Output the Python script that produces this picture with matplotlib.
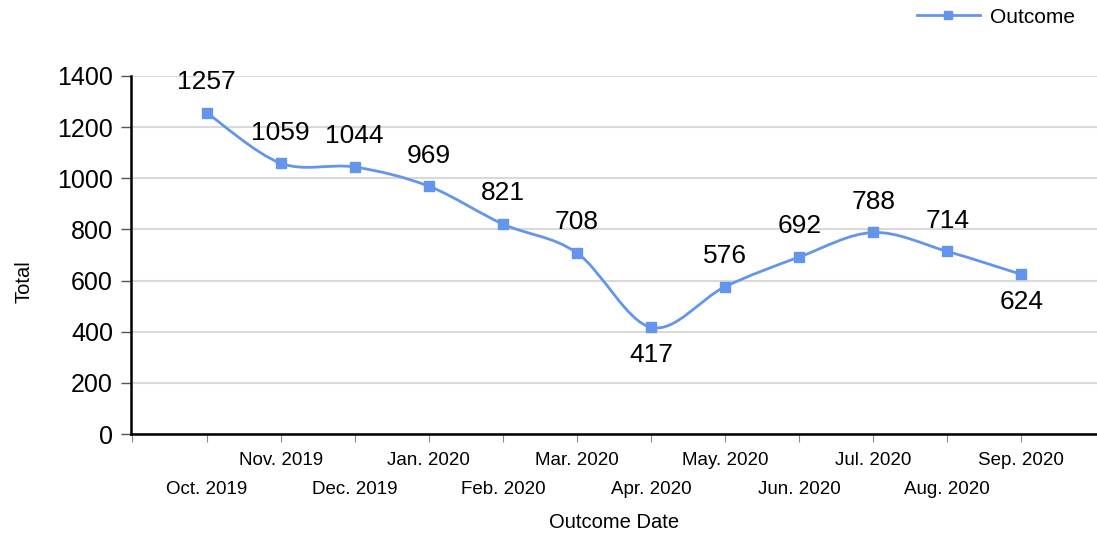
import matplotlib.pyplot as plt
from matplotlib.path import Path
from matplotlib.patches import PathPatch
from matplotlib.lines import Line2D
import matplotlib.transforms as mtransforms

plt.rcParams['font.family'] = ['Liberation Sans', 'DejaVu Sans']

months = ["Oct. 2019", "Nov. 2019", "Dec. 2019", "Jan. 2020", "Feb. 2020", "Mar. 2020",
          "Apr. 2020", "May. 2020", "Jun. 2020", "Jul. 2020", "Aug. 2020", "Sep. 2020"]
totals = [1257, 1059, 1044, 969, 821, 708, 417, 576, 692, 788, 714, 624]
below = ["Apr. 2020", "Sep. 2020"]  # labels drawn under the point
yticks = [0, 200, 400, 600, 800, 1000, 1200, 1400]

col = "#6495ED"

fig = plt.figure(figsize=(10.97, 5.37), dpi=100)
ax = fig.add_axes([0.1194, 0.1918, 0.8806, 0.6667])

xs = list(range(len(months)))

# smooth curve through the points (Catmull-Rom -> cubic bezier)
verts = [(xs[0], totals[0])]
codes = [Path.MOVETO]
n = len(xs)
for i in range(n - 1):
    p0 = (xs[max(i - 1, 0)], totals[max(i - 1, 0)])
    p1 = (xs[i], totals[i])
    p2 = (xs[i + 1], totals[i + 1])
    p3 = (xs[min(i + 2, n - 1)], totals[min(i + 2, n - 1)])
    t = 0.5 / 3
    c1 = (p1[0] + (p2[0] - p0[0]) * t, p1[1] + (p2[1] - p0[1]) * t)
    c2 = (p2[0] - (p3[0] - p1[0]) * t, p2[1] - (p3[1] - p1[1]) * t)
    verts += [c1, c2, p2]
    codes += [Path.CURVE4] * 3
ax.add_patch(PathPatch(Path(verts, codes), fill=False, edgecolor=col, lw=2, zorder=3))
ax.plot(xs, totals, ls="none", marker="s", ms=7, color=col, zorder=4)

for x, v, m in zip(xs, totals, months):
    if m in below:
        ax.annotate(str(v), (x, v), xytext=(0, -20), textcoords="offset points",
                    ha="center", va="center", fontsize=19)
    else:
        ax.annotate(str(v), (x, v), xytext=(0, 22), textcoords="offset points",
                    ha="center", va="center", fontsize=19)

ax.set_xlim(-1.02, 12.02)
ax.set_ylim(0, 1400)
ax.set_yticks(yticks)
ax.tick_params(axis="y", labelsize=18, length=7, width=1, color="#555555", pad=6)
ax.set_xticks(range(-1, 12))
ax.set_xticklabels([""] * 13)
ax.tick_params(axis="x", length=6, color="#888888")

trans = mtransforms.blended_transform_factory(ax.transData, ax.transAxes)
for i, m in enumerate(months):
    yy = -0.154 if i % 2 == 0 else -0.073
    ax.text(i, yy, m, transform=trans, ha="center", va="center", fontsize=13.5)

ax.grid(axis="y", color="#d9d9d9", lw=1.5)
ax.set_axisbelow(True)
for s in ["top", "right"]:
    ax.spines[s].set_visible(False)
ax.spines["left"].set_linewidth(1.8)
ax.spines["bottom"].set_linewidth(1.8)

fig.text(0.022, 0.475, "Total", rotation=90, ha="center", va="center", fontsize=14.5)
fig.text(0.56, 0.027, "Outcome Date", ha="center", va="center", fontsize=14.5)

h = Line2D([], [], color=col, lw=2, marker="s", ms=6)
fig.legend([h], ["Outcome"], loc="center right", bbox_to_anchor=(0.997, 0.968),
           frameon=False, fontsize=15, handlelength=3, handletextpad=0.5)

fig.savefig("out.png", dpi=100)
